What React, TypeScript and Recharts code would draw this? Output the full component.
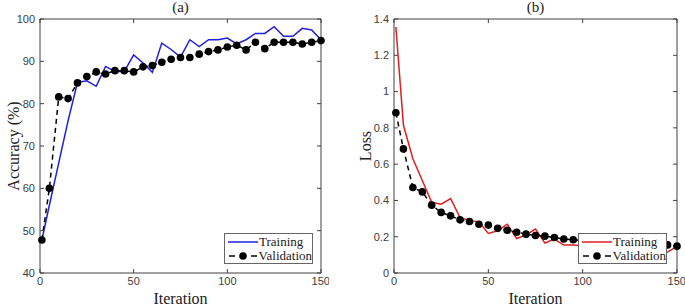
import React from 'react';
import { LineChart, Line, XAxis, YAxis, Legend } from 'recharts';

// iterations where accuracy / loss were logged
const iterations = [1, 5, 10, 15, 20, 25, 30, 35, 40, 45, 50, 55, 60, 65, 70, 75, 80, 85, 90, 95, 100, 105, 110, 115, 120, 125, 130, 135, 140, 145, 150];

const accTrain = [47.8, 56.0, 66.0, 76.0, 85.0, 85.4, 84.1, 88.8, 87.6, 87.6, 91.5, 89.6, 87.4, 94.3, 92.8, 91.0, 95.1, 93.5, 95.1, 95.1, 95.5, 94.1, 95.1, 96.6, 96.6, 98.2, 95.9, 95.9, 97.8, 97.4, 95.1];
const accVal = [47.8, 60.0, 81.6, 81.2, 84.9, 86.4, 87.5, 87.0, 87.8, 87.8, 87.5, 88.7, 89.0, 89.8, 90.5, 90.9, 90.9, 91.7, 92.3, 92.7, 93.4, 93.8, 92.7, 94.5, 93.0, 94.5, 94.5, 94.5, 94.1, 94.5, 94.9];

const lossTrain = [1.356, 0.814, 0.63, 0.51, 0.39, 0.379, 0.41, 0.306, 0.29, 0.282, 0.218, 0.233, 0.269, 0.19, 0.21, 0.242, 0.165, 0.187, 0.154, 0.154, 0.15, 0.16, 0.14, 0.15, 0.13, 0.14, 0.12, 0.13, 0.11, 0.115, 0.147];
const lossVal = [0.883, 0.684, 0.471, 0.447, 0.374, 0.334, 0.315, 0.293, 0.284, 0.269, 0.264, 0.246, 0.236, 0.225, 0.214, 0.207, 0.203, 0.196, 0.187, 0.183, 0.18, 0.177, 0.173, 0.17, 0.167, 0.164, 0.162, 0.16, 0.157, 0.155, 0.148];

const iterTicks = [0, 50, 100, 150];
const accTicks = [40, 50, 60, 70, 80, 90, 100];
const lossTicks = [0, 0.2, 0.4, 0.6, 0.8, 1, 1.2, 1.4];

const accData = iterations.map((it, i) => ({ it, train: accTrain[i], val: accVal[i] }));
const lossData = iterations.map((it, i) => ({ it, train: lossTrain[i], val: lossVal[i] }));

const AXIS = '#404040';
const SERIF = '"Liberation Serif", "Times New Roman", serif';
const tickStyle = { fontSize: 11, fill: AXIS, fontFamily: '"Liberation Sans", Arial, sans-serif' };
const blank = () => '';

function LegendBox({ color }: { color: string }) {
  const row = { display: 'flex', alignItems: 'center', height: 14 };
  return (
    <div
      style={{
        background: '#fff',
        border: '1px solid #666',
        width: 89,
        height: 31,
        boxSizing: 'border-box',
        fontFamily: SERIF,
        fontSize: 13,
        color: '#222',
        padding: '1px 0 0 2px',
        lineHeight: '14px',
      }}
    >
      <div style={row}>
        <svg width={32} height={10}>
          <line x1={1} x2={31} y1={5} y2={5} stroke={color} strokeWidth={1.5} />
        </svg>
        <span>Training</span>
      </div>
      <div style={row}>
        <svg width={32} height={10}>
          <line x1={2} x2={8} y1={5} y2={5} stroke="#000" strokeWidth={1.5} />
          <line x1={24} x2={30} y1={5} y2={5} stroke="#000" strokeWidth={1.5} />
          <circle cx={16} cy={5} r={3.8} fill="#000" />
        </svg>
        <span>Validation</span>
      </div>
    </div>
  );
}

interface PanelProps {
  data: { it: number; train: number; val: number }[];
  yTicks: number[];
  yDomain: [number, number];
  yLabel: string;
  yLabelOffset: number;
  yWidth: number;
  width: number;
  title: string;
  color: string;
  legendLeft: number;
}

function Panel(p: PanelProps) {
  return (
    <LineChart width={p.width} height={308} data={p.data} margin={{ top: 18, right: 7, left: 0, bottom: 0 }}>
      <XAxis
        dataKey="it"
        type="number"
        domain={[0, 150]}
        ticks={iterTicks}
        tick={tickStyle}
        tickSize={-4}
        tickMargin={8}
        stroke={AXIS}
        height={35}
        label={{ value: 'Iteration', position: 'insideBottom', offset: 4, fontSize: 16, fill: '#222', fontFamily: SERIF }}
      />
      <XAxis
        xAxisId="top"
        orientation="top"
        dataKey="it"
        type="number"
        domain={[0, 150]}
        allowDataOverflow
        ticks={iterTicks}
        tickFormatter={blank}
        tickSize={-4}
        stroke={AXIS}
        height={1}
        label={{ value: p.title, position: 'top', offset: 6, fontSize: 15, fill: '#222', fontFamily: SERIF }}
      />
      <YAxis
        type="number"
        domain={p.yDomain}
        ticks={p.yTicks}
        tick={tickStyle}
        tickSize={-4}
        tickMargin={9}
        stroke={AXIS}
        width={p.yWidth}
        label={{
          value: p.yLabel,
          angle: -90,
          position: 'insideLeft',
          offset: p.yLabelOffset,
          fontSize: 16,
          fill: '#222',
          fontFamily: SERIF,
          style: { textAnchor: 'middle' },
        }}
      />
      <YAxis
        yAxisId="right"
        orientation="right"
        type="number"
        domain={p.yDomain}
        allowDataOverflow
        ticks={p.yTicks}
        tickFormatter={blank}
        tickSize={-4}
        stroke={AXIS}
        width={1}
      />
      {/* invisible series that ties the top / right box axes to the data */}
      <Line
        xAxisId="top"
        yAxisId="right"
        dataKey="val"
        stroke="none"
        dot={false}
        legendType="none"
        isAnimationActive={false}
      />
      <Line
        dataKey="train"
        stroke={p.color}
        strokeWidth={1.5}
        dot={false}
        isAnimationActive={false}
      />
      <Line
        dataKey="val"
        stroke="#000"
        strokeWidth={1.5}
        strokeDasharray="5 4"
        dot={{ r: 3.8, fill: '#000', stroke: 'none', strokeDasharray: '' }}
        isAnimationActive={false}
      />
      <Legend
        content={() => <LegendBox color={p.color} />}
        wrapperStyle={{ left: p.legendLeft, top: 233, width: 89, height: 31 }}
        layout="vertical"
        align="center"
        verticalAlign="middle"
      />
    </LineChart>
  );
}

export default function App() {
  return (
    <div style={{ position: 'absolute', left: 0, top: 0, width: 685, height: 308, background: '#fff' }}>
      <div style={{ position: 'absolute', left: 0, top: 0 }}>
        <Panel
          data={accData}
          yTicks={accTicks}
          yDomain={[40, 100]}
          yLabel="Accuracy (%)"
          yLabelOffset={13}
          yWidth={40}
          width={329}
          title="(a)"
          color="#1f1fe0"
          legendLeft={224}
        />
      </div>
      <div style={{ position: 'absolute', left: 340, top: 0 }}>
        <Panel
          data={lossData}
          yTicks={lossTicks}
          yDomain={[0, 1.4]}
          yLabel="Loss"
          yLabelOffset={25}
          yWidth={54}
          width={345}
          title="(b)"
          color="#e01f1f"
          legendLeft={238}
        />
      </div>
    </div>
  );
}
